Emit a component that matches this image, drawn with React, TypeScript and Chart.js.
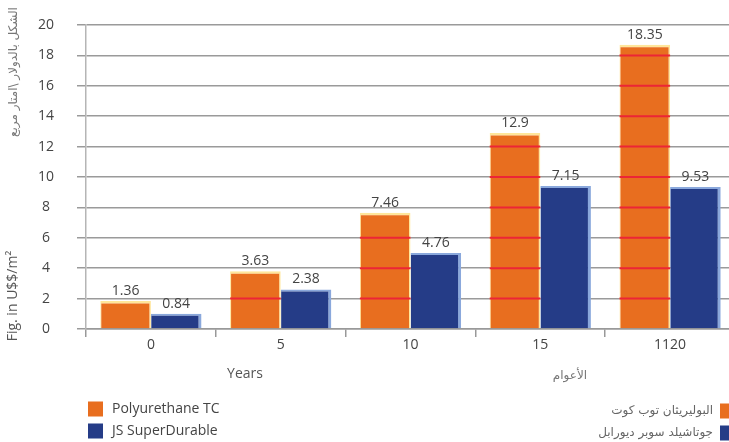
import React, { useEffect, useRef } from "react"
import { Chart, registerables } from "chart.js"

Chart.register(...registerables)

// values
const years = ["0", "5", "10", "15", "1120"]
const polyurethaneTC = [1.85, 3.8, 7.65, 12.9, 18.7]
const superDurable = [1.0, 2.6, 5.0, 9.4, 9.35]
const polyurethaneLabels = ["1.36", "3.63", "7.46", "12.9", "18.35"]
const superDurableLabels = ["0.84", "2.38", "4.76", "7.15", "9.53"]
const seriesNames = ["Polyurethane TC", "JS SuperDurable"]
const seriesNamesAr = ["البوليريثان توب كوت", "جوتاشيلد سوبر ديورابل"]

const ORANGE = "#e86e1f"
const BLUE = "#253c87"
const FONT = '"Open Sans", "DejaVu Sans", sans-serif'
const AR_FONT = '"DejaVu Sans", sans-serif'

const decorations = {
  id: "decorations",
  afterDatasetsDraw(chart: Chart) {
    const { ctx } = chart
    const yScale = chart.scales.y
    const orange = chart.getDatasetMeta(0)
    ctx.save()
    // red grid lines drawn over the orange bars
    ctx.strokeStyle = "#ec2536"
    ctx.lineWidth = 2
    orange.data.forEach((bar: any, i) => {
      const { x, width } = bar.getProps(["x", "width"], true)
      yScale.ticks.forEach((t) => {
        if (t.value > 0 && t.value < polyurethaneTC[i]) {
          const py = yScale.getPixelForValue(t.value)
          ctx.beginPath()
          ctx.moveTo(x - width / 2, py)
          ctx.lineTo(x + width / 2, py)
          ctx.stroke()
        }
      })
    })
    // value labels
    ctx.fillStyle = "#444"
    ctx.font = `14px ${FONT}`
    ctx.textAlign = "center"
    ctx.textBaseline = "middle"
    const labelSets = [polyurethaneLabels, superDurableLabels]
    labelSets.forEach((labels, d) => {
      chart.getDatasetMeta(d).data.forEach((bar: any, i) => {
        const { x, y } = bar.getProps(["x", "y"], true)
        ctx.fillText(labels[i], x, y - 10)
      })
    })
    ctx.restore()
  },
  afterDraw(chart: Chart) {
    const { ctx } = chart
    ctx.save()
    // y titles
    ctx.fillStyle = "#555"
    ctx.textAlign = "center"
    ctx.textBaseline = "middle"
    ctx.save()
    ctx.translate(13, 296)
    ctx.rotate(-Math.PI / 2)
    ctx.font = `14px ${FONT}`
    ctx.fillText("Fig. in U$$/m²", 0, 0)
    ctx.restore()
    ctx.save()
    ctx.translate(14, 72)
    ctx.rotate(-Math.PI / 2)
    ctx.fillStyle = "#777"
    ctx.font = `12px ${AR_FONT}`
    ctx.fillText("الشكل بالدولار \\امتار مربع", 0, 0)
    ctx.restore()
    // x titles
    ctx.font = `14px ${FONT}`
    ctx.fillText("Years", 245, 374)
    ctx.fillStyle = "#777"
    ctx.font = `12px ${AR_FONT}`
    ctx.fillText("الأعوام", 570, 376)
    // legends
    const colors = [ORANGE, BLUE]
    seriesNames.forEach((name, i) => {
      const cy = 409 + i * 22
      ctx.fillStyle = colors[i]
      ctx.fillRect(88, cy - 7.5, 15, 15)
      ctx.fillStyle = "#444"
      ctx.font = `14px ${FONT}`
      ctx.textAlign = "left"
      ctx.fillText(name, 112, cy)
    })
    seriesNamesAr.forEach((name, i) => {
      const cy = 411 + i * 22
      ctx.fillStyle = colors[i]
      ctx.fillRect(720, cy - 7.5, 15, 15)
      ctx.fillStyle = "#666"
      ctx.font = `12px ${AR_FONT}`
      ctx.textAlign = "right"
      ctx.fillText(name, 713, cy)
    })
    ctx.restore()
  },
}

export default function App() {
  const canvasRef = useRef<HTMLCanvasElement>(null)
  const chartInstance = useRef<Chart | null>(null)

  useEffect(() => {
    if (!canvasRef.current) return
    if (chartInstance.current) chartInstance.current.destroy()
    const ctx = canvasRef.current.getContext("2d")
    if (!ctx) return
    chartInstance.current = new Chart(ctx, {
      type: "bar",
      data: {
        labels: years,
        datasets: [
          {
            label: seriesNames[0],
            data: polyurethaneTC,
            backgroundColor: ORANGE,
            borderColor: "#ffe69a",
            borderWidth: { top: 2.5, right: 1.5, left: 1, bottom: 0 },
            borderSkipped: false,
            categoryPercentage: 0.78,
            barPercentage: 1,
          },
          {
            label: seriesNames[1],
            data: superDurable,
            backgroundColor: BLUE,
            borderColor: "#8aa8dc",
            borderWidth: { top: 2, right: 3, left: 0.5, bottom: 0 },
            borderSkipped: false,
            categoryPercentage: 0.78,
            barPercentage: 1,
          },
        ],
      },
      options: {
        responsive: true,
        maintainAspectRatio: false,
        animation: false,
        layout: { padding: { top: 25, left: 0, right: 0, bottom: 0 } },
        plugins: {
          legend: { display: false },
          tooltip: { enabled: false },
        },
        scales: {
          x: {
            afterFit: (scale) => {
              scale.height = 113
            },
            grid: {
              display: true,
              drawOnChartArea: false,
              tickLength: 8,
              color: "#999",
              lineWidth: 1.5,
              offset: true,
            },
            border: { display: true, color: "#999", width: 1.5 },
            ticks: {
              color: "#444",
              font: { family: FONT, size: 14 },
              padding: 0,
            },
          },
          y: {
            min: 0,
            max: 20,
            afterFit: (scale: any) => {
              scale.width = 86
              scale.paddingTop = 0
              scale.paddingBottom = 0
            },
            grid: {
              color: "#9a9a9a",
              lineWidth: 1.5,
              tickLength: 9,
            },
            border: { display: true, color: "#b5b5b5", width: 1.5 },
            ticks: {
              stepSize: 2,
              color: "#444",
              font: { family: FONT, size: 14 },
              crossAlign: "center",
              padding: 23,
            },
          },
        },
      },
      plugins: [decorations],
    })
    return () => {
      if (chartInstance.current) chartInstance.current.destroy()
      chartInstance.current = null
    }
  }, [])

  return (
    <div
      style={{
        position: "absolute",
        left: 0,
        top: 0,
        width: 729,
        height: 442,
        overflow: "hidden",
        background: "#fff",
      }}
    >
      <div style={{ position: "relative", width: 735, height: 442 }}>
        <canvas ref={canvasRef}></canvas>
      </div>
    </div>
  )
}
